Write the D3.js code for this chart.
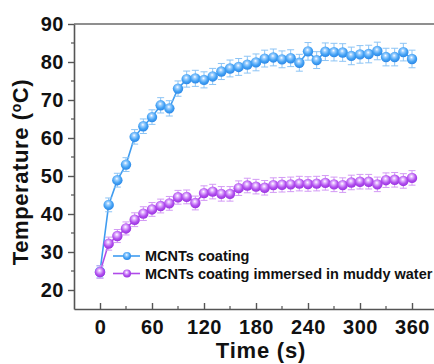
<!DOCTYPE html>
<html><head><meta charset="utf-8">
<script src="https://cdn.jsdelivr.net/npm/d3@7"></script>
<style>body{margin:0;background:#fff}svg{display:block}</style>
</head><body>
<script>
const times = [0,10,20,30,40,50,60,70,80,90,100,110,120,130,140,150,160,170,180,190,200,210,220,230,240,250,260,270,280,290,300,310,320,330,340,350,360];
const coating = [24.8,42.4,48.9,53.0,60.3,63.1,65.5,68.6,67.8,73.0,75.5,75.7,75.3,76.2,77.5,78.3,78.7,79.3,79.9,80.9,81.2,80.7,81.0,79.8,82.8,80.5,82.7,82.6,82.5,81.6,82.0,82.1,82.9,81.3,81.3,82.6,80.8];
const coatingErr = [0.3,0.5,0.5,0.5,0.6,0.6,0.6,0.7,0.7,0.7,0.8,0.8,0.8,0.8,0.8,0.9,0.9,0.9,0.9,0.9,0.9,0.9,0.9,0.9,1.0,0.9,1.0,1.0,1.0,1.0,1.0,1.0,1.0,1.0,1.0,1.0,1.0];
const muddy = [24.7,32.2,34.2,36.2,38.5,40.1,41.2,42.1,42.8,44.4,44.5,42.9,45.5,45.9,45.3,45.3,46.8,47.5,47.2,46.9,47.6,47.7,47.8,48.0,47.9,48.0,48.2,47.8,47.6,48.3,48.5,48.5,47.8,48.9,49.0,48.7,49.5];
const muddyErr = [0.3,0.4,0.4,0.4,0.5,0.5,0.5,0.5,0.5,0.5,0.5,0.5,0.6,0.6,0.6,0.6,0.6,0.6,0.6,0.6,0.6,0.6,0.6,0.6,0.6,0.6,0.6,0.6,0.6,0.6,0.6,0.6,0.6,0.6,0.6,0.6,0.6];
const seriesNames = ["MCNTs coating","MCNTs coating immersed in muddy water"];
const xTicks = [0,60,120,180,240,300,360];
const yTicks = [20,30,40,50,60,70,80,90];

const W=434,H=364;
const FONT="Liberation Sans, Arial, sans-serif";
const svg=d3.select("body").append("svg").attr("width",W).attr("height",H);
const x=d3.scaleLinear().domain([-30,390]).range([74,438]);
const y=d3.scaleLinear().domain([15,90]).range([309,24]);

const defs=svg.append("defs");
function grad(id,light,mid,dark){
  const g=defs.append("radialGradient").attr("id",id).attr("cx","45%").attr("cy","40%").attr("r","60%").attr("fx","45%").attr("fy","35%");
  g.append("stop").attr("offset","0%").attr("stop-color","#ffffff");
  g.append("stop").attr("offset","25%").attr("stop-color",light);
  g.append("stop").attr("offset","65%").attr("stop-color",mid);
  g.append("stop").attr("offset","100%").attr("stop-color",dark);
}
grad("gBlue","#9fd0ff","#45a3f5","#2a86e6");
grad("gPurp","#e2b5ff","#b352ef","#9830df");

const series=[
  {name:seriesNames[0],vals:coating,err:coatingErr,color:"#3f9cf0",errColor:"#8cc4f5",grad:"gBlue"},
  {name:seriesNames[1],vals:muddy,err:muddyErr,color:"#b04ae9",errColor:"#d39af5",grad:"gPurp"}
];

// top frame
svg.append("line").attr("x1",74).attr("x2",W).attr("y1",24).attr("y2",24).attr("stroke","#6a6a6a").attr("stroke-width",1.6);

const xAxis=d3.axisBottom(x).tickValues(xTicks).tickSizeInner(-6).tickSizeOuter(0).tickPadding(11);
const gx=svg.append("g").attr("transform","translate(0,309)").call(xAxis);
gx.select(".domain").attr("stroke","#555").attr("stroke-width",1.6);
gx.selectAll(".tick line").attr("stroke","#555").attr("stroke-width",1.4);
gx.selectAll(".tick text").attr("font-family",FONT).attr("font-weight","bold").attr("font-size",20).attr("letter-spacing",0.5).attr("fill","#111");
const xMinor=d3.range(30,390,60);
svg.append("g").selectAll("line").data(xMinor).join("line")
  .attr("x1",d=>x(d)).attr("x2",d=>x(d)).attr("y1",309).attr("y2",306).attr("stroke","#555").attr("stroke-width",1.2);

const yAxis=d3.axisLeft(y).tickValues(yTicks).tickSizeInner(6).tickSizeOuter(0).tickPadding(4);
const gy=svg.append("g").attr("transform","translate(74,0)").call(yAxis);
gy.select(".domain").attr("stroke","#555").attr("stroke-width",1.6);
gy.selectAll(".tick line").attr("stroke","#555").attr("stroke-width",1.4);
gy.selectAll(".tick text").attr("font-family",FONT).attr("font-weight","bold").attr("font-size",20).attr("letter-spacing",0.5).attr("fill","#111");
const yMinor=[25,35,45,55,65,75,85];
svg.append("g").selectAll("line").data(yMinor).join("line")
  .attr("x1",74).attr("x2",71).attr("y1",d=>y(d)).attr("y2",d=>y(d)).attr("stroke","#555").attr("stroke-width",1.2);

// labels
svg.append("text").attr("x",261).attr("y",358).attr("text-anchor","middle")
  .attr("font-family",FONT).attr("font-weight","bold").attr("font-size",22).attr("letter-spacing",0.8).attr("fill","#111").text("Time (s)");
const yl=svg.append("text").attr("transform","translate(28,172) rotate(-90)").attr("text-anchor","middle")
  .attr("font-family",FONT).attr("font-weight","bold").attr("font-size",22).attr("letter-spacing",0.6).attr("fill","#111");
yl.append("tspan").text("Temperature (");
yl.append("tspan").attr("font-size",14).attr("dy",-7).text("o");
yl.append("tspan").attr("dy",7).text("C)");

// series
const line=d3.line().x((d,i)=>x(times[i])).y(d=>y(d));
series.forEach(s=>{
  const g=svg.append("g");
  g.append("path").datum(s.vals).attr("d",line).attr("fill","none").attr("stroke",s.color).attr("stroke-width",1.6);
  const eb=g.append("g").attr("stroke",s.errColor).attr("stroke-width",1);
  s.vals.forEach((v,i)=>{
    const cx=x(times[i]),e=s.err[i];
    eb.append("line").attr("x1",cx).attr("x2",cx).attr("y1",y(v+e)-5).attr("y2",y(v-e)+5);
    eb.append("line").attr("x1",cx-3.5).attr("x2",cx+3.5).attr("y1",y(v+e)-5).attr("y2",y(v+e)-5);
    eb.append("line").attr("x1",cx-3.5).attr("x2",cx+3.5).attr("y1",y(v-e)+5).attr("y2",y(v-e)+5);
  });
  g.selectAll("circle").data(s.vals).join("circle")
    .attr("cx",(d,i)=>x(times[i])).attr("cy",d=>y(d)).attr("r",5.2)
    .attr("fill",`url(#${s.grad})`);
});

// legend
const lg=svg.append("g");
series.forEach((s,i)=>{
  const yy=256+i*17.5;
  lg.append("line").attr("x1",113).attr("x2",140).attr("y1",yy).attr("y2",yy).attr("stroke",s.color).attr("stroke-width",1.6);
  lg.append("circle").attr("cx",127).attr("cy",yy).attr("r",4).attr("fill",`url(#${s.grad})`);
  lg.append("text").attr("x",145).attr("y",yy+5).attr("font-family",FONT)
    .attr("font-weight","bold").attr("font-size",14.5).attr("fill","#111").text(s.name);
});
</script>
</body></html>
